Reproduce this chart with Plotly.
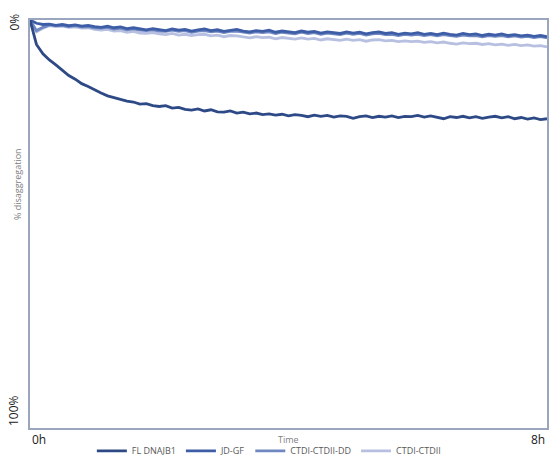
import plotly.graph_objects as go

# time axis (hours)
time_h = [round(i * 0.1, 1) for i in range(81)]

fl_dnajb1 = [
    0, 6.0, 8.3, 9.8, 11.0, 12.4, 13.6, 14.5, 15.6, 16.3,
    17.2, 17.9, 18.6, 19.0, 19.5, 19.9, 20.1, 20.6, 20.5, 21.0,
    21.2, 21.0, 21.6, 21.4, 21.9, 22.1, 21.8, 22.3, 22.0, 22.5,
    22.6, 22.3, 22.8, 22.6, 23.0, 22.8, 23.2, 23.0, 23.3, 23.1,
    23.5, 23.2, 23.4, 23.7, 23.3, 23.6, 23.4, 23.8, 23.5, 23.6,
    24.1, 23.7, 23.5, 23.9, 23.6, 23.8, 23.5, 23.9, 23.6, 23.7,
    23.4, 23.8, 23.5, 23.9, 24.2, 23.7, 23.9, 23.6, 24.0, 23.7,
    24.1, 23.8, 23.6, 24.0, 23.7, 24.2, 23.9, 24.3, 24.0, 24.4,
    24.2,
]

jd_gf = [
    0, 0.8, 1.1, 1.0, 1.3, 1.1, 1.4, 1.2, 1.5, 1.3,
    1.6, 1.8, 1.5, 1.9, 1.7, 2.1, 1.9, 2.2, 2.4, 2.1,
    2.3, 2.6, 2.2, 2.5, 2.3, 2.7, 2.4, 2.2, 2.6, 2.4,
    2.8, 2.5, 2.3, 2.7, 2.9, 2.6, 2.8, 2.5, 3.0, 2.7,
    2.9, 3.1, 2.7, 3.0, 2.8, 3.2, 2.9, 3.1, 3.3, 2.9,
    3.2, 3.0, 3.4, 3.1, 2.9, 3.3, 3.1, 3.5, 3.2, 3.4,
    3.1, 3.5, 3.3, 3.6, 3.2, 3.5, 3.7, 3.3, 3.6, 3.4,
    3.8, 3.5, 3.7, 3.4, 3.8, 3.6, 3.9, 3.7, 4.0, 3.8,
    4.1,
]

ctdi_ctdii_dd = [
    0, 2.6, 1.8, 1.2, 1.4, 1.3, 1.6, 1.4, 1.7, 1.6,
    1.9, 2.0, 1.8, 2.2, 2.0, 2.4, 2.2, 2.5, 2.6, 2.4,
    2.7, 2.8, 2.5, 2.8, 2.6, 3.0, 2.7, 2.6, 2.9, 2.7,
    3.1, 2.8, 2.7, 3.0, 3.2, 2.9, 3.1, 2.9, 3.3, 3.0,
    3.2, 3.4, 3.0, 3.3, 3.1, 3.5, 3.2, 3.4, 3.6, 3.2,
    3.5, 3.3, 3.7, 3.4, 3.3, 3.6, 3.5, 3.8, 3.5, 3.7,
    3.5, 3.8, 3.6, 3.9, 3.6, 3.8, 4.0, 3.7, 3.9, 3.8,
    4.1, 3.8, 4.0, 3.8, 4.1, 3.9, 4.2, 4.0, 4.3, 4.1,
    4.4,
]

ctdi_ctdii = [
    0, 2.9, 2.0, 1.4, 1.6, 1.5, 1.8, 1.7, 2.0, 1.9,
    2.3, 2.5, 2.3, 2.7, 2.6, 3.0, 2.8, 3.2, 3.3, 3.1,
    3.4, 3.6, 3.3, 3.7, 3.5, 3.8, 3.6, 3.5, 3.9, 3.7,
    4.1, 3.8, 3.9, 4.2, 4.4, 4.1, 4.3, 4.2, 4.6, 4.3,
    4.5, 4.7, 4.4, 4.7, 4.5, 4.9, 4.6, 4.8, 5.0, 4.7,
    5.0, 4.8, 5.2, 4.9, 4.8, 5.1, 5.0, 5.3, 5.1, 5.3,
    5.2, 5.5, 5.3, 5.6, 5.4, 5.7, 5.9, 5.6, 5.8, 5.7,
    6.0, 5.8, 6.1, 5.9, 6.2, 6.0, 6.3, 6.1, 6.4, 6.3,
    6.6,
]

series_names = ["FL DNAJB1", "JD-GF", "CTDI-CTDII-DD", "CTDI-CTDII"]
series_values = [fl_dnajb1, jd_gf, ctdi_ctdii_dd, ctdi_ctdii]
series_colors = ["#2E4A86", "#3D5DA6", "#7088C2", "#B7C0E0"]

y_tick_vals = [0, 100]
y_tick_text = ["0%", "100%"]
x_tick_vals = [0, 8]
x_tick_text = ["0h", "8h"]

fig = go.Figure()
# draw lightest first so darker lines sit on top
for name, vals, col in reversed(list(zip(series_names, series_values, series_colors))):
    fig.add_trace(go.Scatter(
        x=time_h, y=vals, mode="lines", name=name,
        line=dict(color=col, width=2.8),
    ))

frame = "#99A6BD"
fig.update_layout(
    width=549, height=459,
    margin=dict(l=30, r=2, t=20, b=31, autoexpand=False),
    paper_bgcolor="white", plot_bgcolor="white",
    font=dict(family="Open Sans, Liberation Sans, sans-serif", color="#404040"),
    showlegend=True,
    legend=dict(
        orientation="h", x=0.462, xanchor="center", y=-0.056, yanchor="middle",
        traceorder="reversed", font=dict(size=9, color="#595959"),
        itemwidth=30, tracegroupgap=0,
        bgcolor="rgba(0,0,0,0)",
    ),
    xaxis=dict(
        range=[0, 8], showgrid=False, zeroline=False, showticklabels=False,
        showline=True, linecolor=frame, linewidth=1.5, mirror=True, ticks="",
    ),
    yaxis=dict(
        range=[100, 0], showgrid=False, zeroline=False, showticklabels=False,
        showline=True, linecolor=frame, linewidth=1.5, mirror=True, ticks="",
    ),
)

# y tick labels (rotated), placed through the y axis
fig.add_annotation(x=0, xref="paper", xanchor="right", xshift=-6,
                   y=y_tick_vals[0], yref="y", yanchor="middle", yshift=-2,
                   text=y_tick_text[0], textangle=-90, showarrow=False,
                   font=dict(size=12, color="#202020"))
fig.add_annotation(x=0, xref="paper", xanchor="right", xshift=-6,
                   y=y_tick_vals[1], yref="y", yanchor="bottom",
                   text=y_tick_text[1], textangle=-90, showarrow=False,
                   font=dict(size=12, color="#202020"))
# x tick labels
fig.add_annotation(x=x_tick_vals[0], xref="x", xanchor="left",
                   y=0, yref="paper", yanchor="top", yshift=-1,
                   text=x_tick_text[0], showarrow=False,
                   font=dict(size=12, color="#202020"))
fig.add_annotation(x=x_tick_vals[1], xref="x", xanchor="right",
                   y=0, yref="paper", yanchor="top", yshift=-1,
                   text=x_tick_text[1], showarrow=False,
                   font=dict(size=12, color="#202020"))
# axis titles
fig.add_annotation(x=0.5, xref="paper", xanchor="center",
                   y=0, yref="paper", yanchor="top", yshift=-3,
                   text="Time", showarrow=False,
                   font=dict(size=9, color="#808080"))
fig.add_annotation(x=0, xref="paper", xanchor="center", xshift=-13,
                   y=0.598, yref="paper", yanchor="middle",
                   text="% disaggregation", textangle=-90, showarrow=False,
                   font=dict(size=9, color="#808080"))

fig.write_html(
    "out.html",
    config={"displayModeBar": False},
    post_script="document.body.style.margin='0';document.body.style.overflow='hidden';",
)
